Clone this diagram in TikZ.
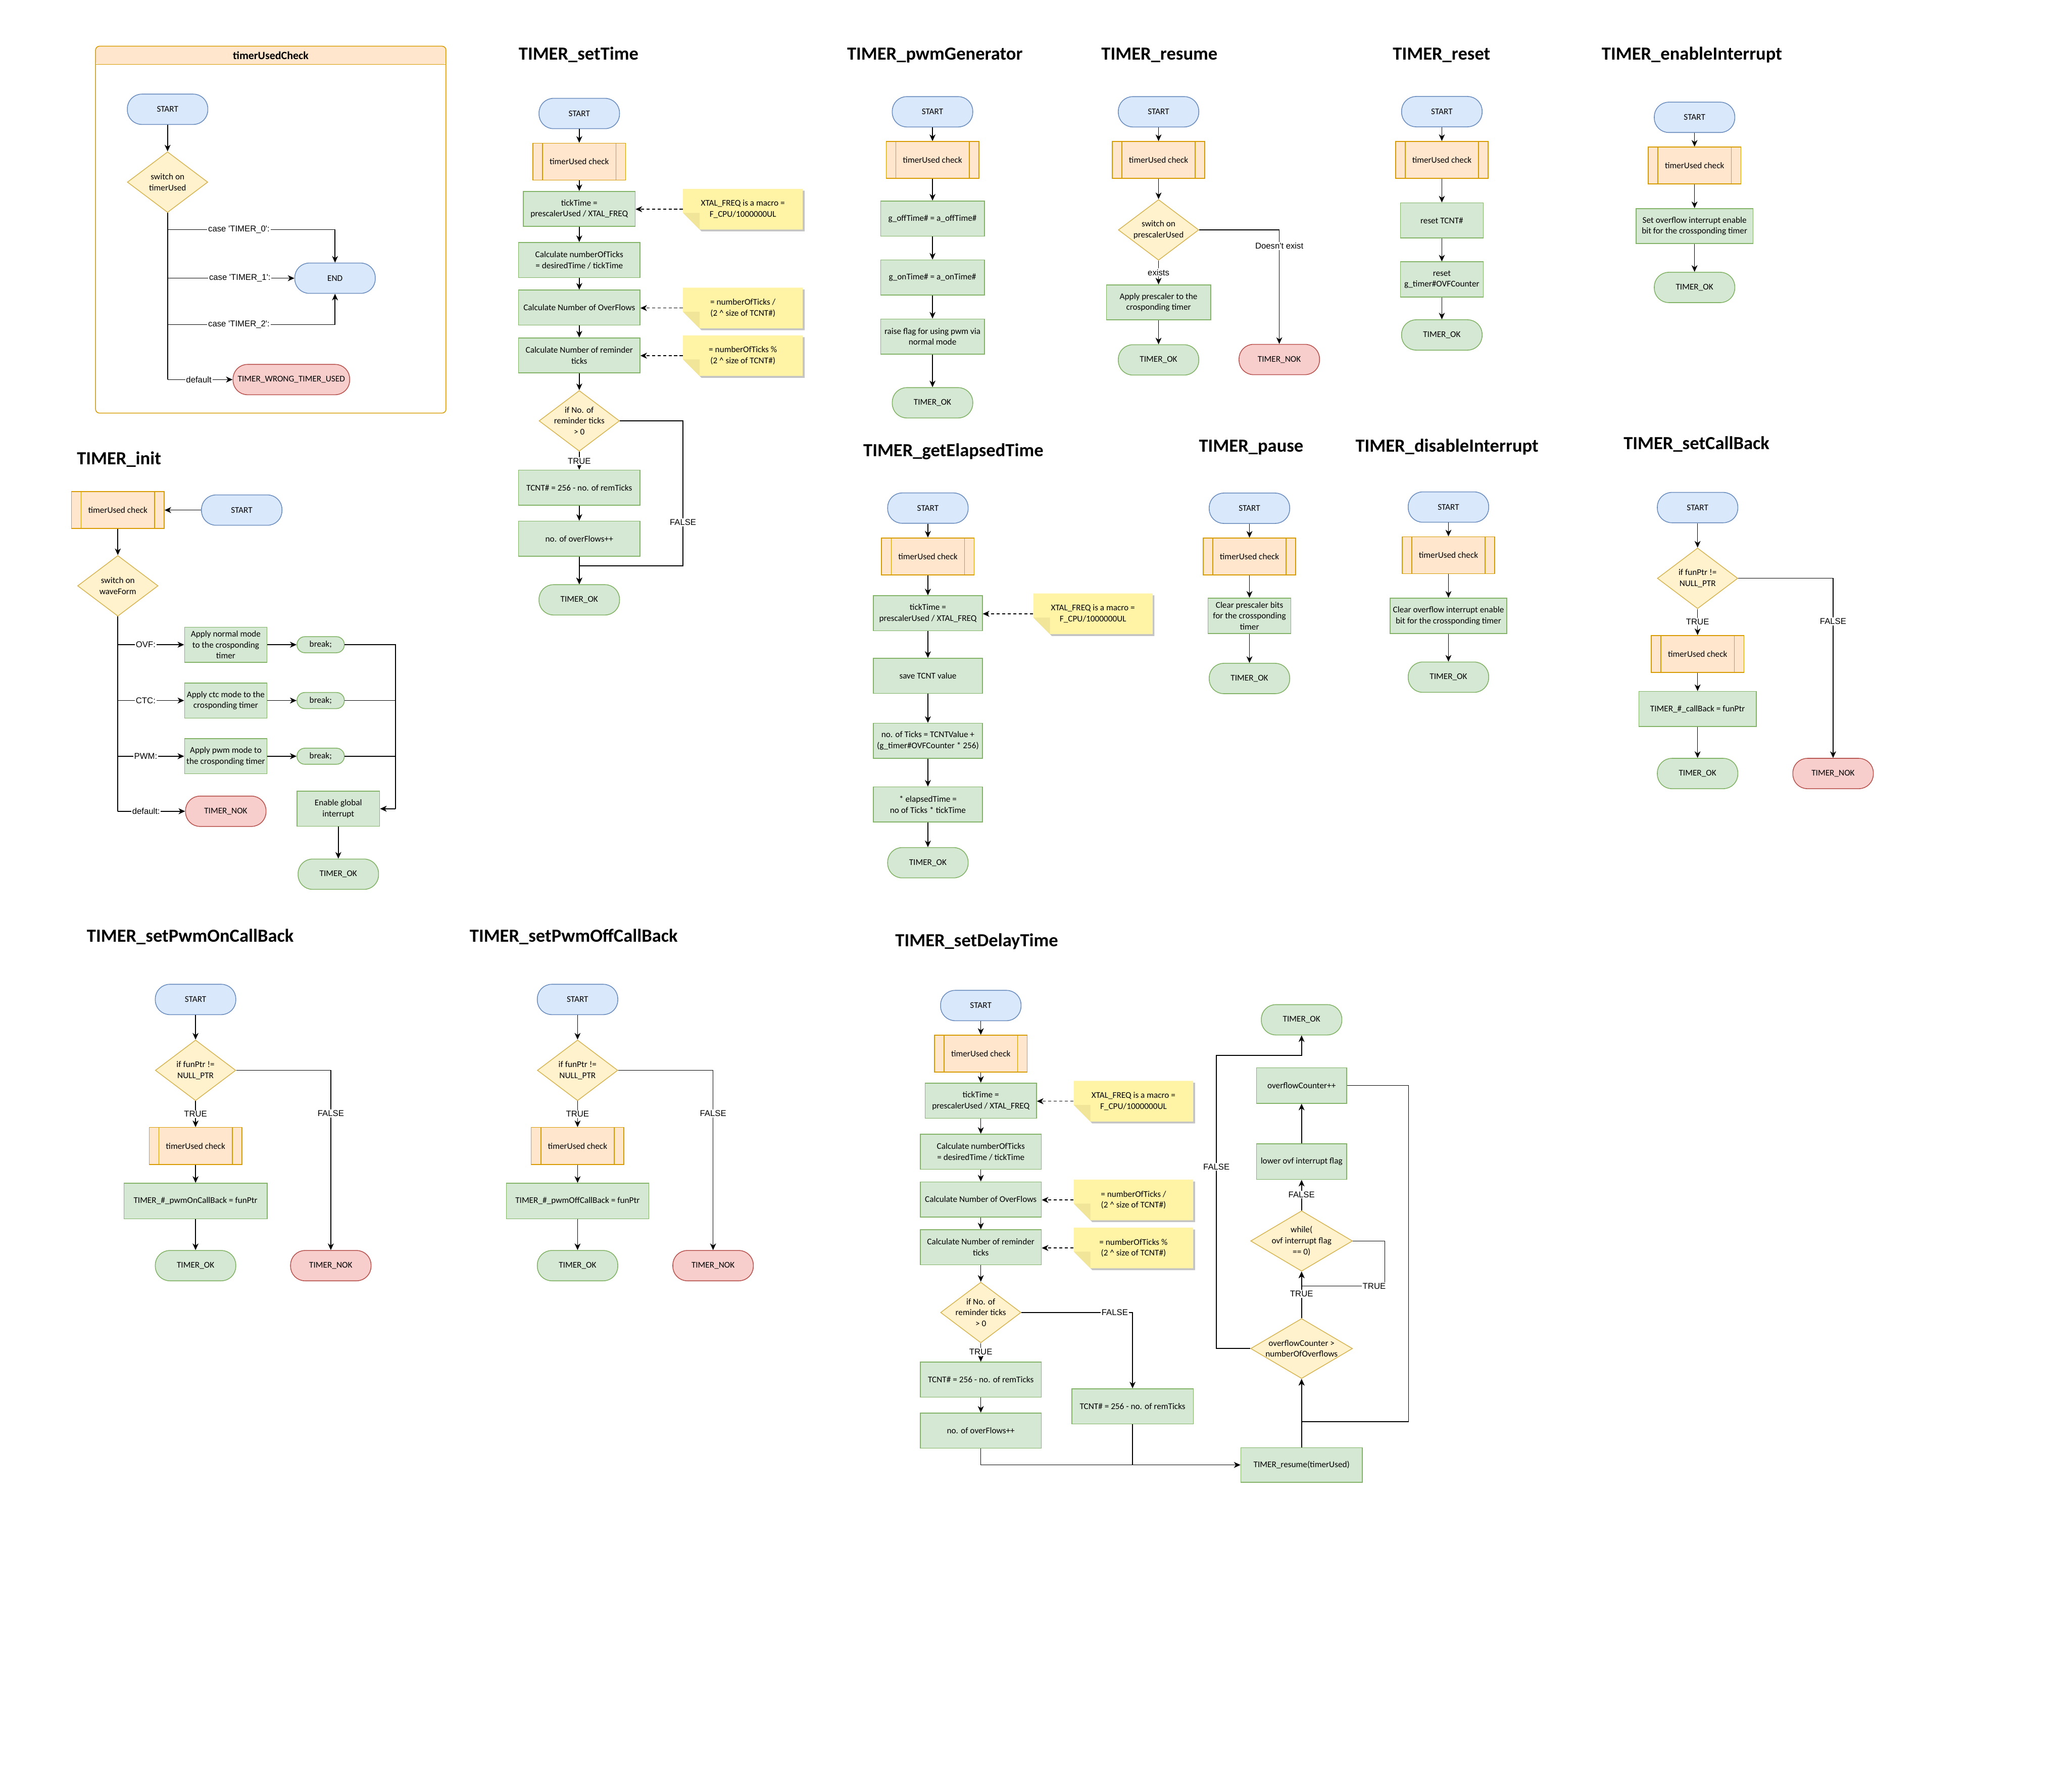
\documentclass[tikz,border=0pt]{standalone}
\usepackage{fontspec}
\setmainfont{Carlito}
\newfontfamily\lblfont{Liberation Sans}
\usetikzlibrary{arrows.meta,shapes.geometric}
\definecolor{bfill}{HTML}{DAE8FC}\definecolor{bdraw}{HTML}{6C8EBF}
\definecolor{gfill}{HTML}{D5E8D4}\definecolor{gdraw}{HTML}{82B366}
\definecolor{rfill}{HTML}{F8CECC}\definecolor{rdraw}{HTML}{B85450}
\definecolor{ofill}{HTML}{FFE6CC}\definecolor{odraw}{HTML}{D79B00}
\definecolor{yfill}{HTML}{FFF2CC}\definecolor{ydraw}{HTML}{D6B656}
\definecolor{nfill}{HTML}{FFF4A6}\definecolor{nflap}{HTML}{F1E59A}\definecolor{nshad}{HTML}{C4C4C4}
\newcommand\nfnt{\fontsize{6.6pt}{8.3pt}\selectfont}
\newcommand\lfnt{\lblfont\fontsize{6.4pt}{7.6pt}\selectfont}
\newcommand\tfnt{\bfseries\fontsize{14pt}{16pt}\selectfont}
\newcommand\hfnt{\bfseries\fontsize{8.4pt}{10pt}\selectfont}
\tikzset{
  lw/.style={line width=0.6pt},
  nbase/.style={draw, lw, align=center, inner sep=0pt, font=\nfnt, text=black},
  term/.style={nbase, rectangle, rounded corners=11pt, minimum width=61pt, minimum height=23pt},
  startnode/.style={term, fill=bfill, draw=bdraw},
  oknode/.style={term, fill=gfill, draw=gdraw},
  noknode/.style={term, fill=rfill, draw=rdraw},
  breaknode/.style={nbase, rectangle, rounded corners=6pt, minimum width=35.9pt, minimum height=12.2pt, fill=gfill, draw=gdraw},
  procbox/.style={nbase, rectangle, fill=gfill, draw=gdraw, minimum width=#1, minimum height=26.6pt},
  subbox/.style={nbase, rectangle, fill=ofill, draw=odraw, minimum width=70.2pt, minimum height=28pt,
     path picture={\draw[odraw,lw] ([xshift=7.3pt]path picture bounding box.north west) -- ([xshift=7.3pt]path picture bounding box.south west)
       ([xshift=-7.3pt]path picture bounding box.north east) -- ([xshift=-7.3pt]path picture bounding box.south east);}},
  decbox/.style={nbase, diamond, fill=yfill, draw=ydraw, minimum width=61pt, minimum height=46pt},
  dlab/.style={font=\nfnt, align=center, inner sep=0pt, text=black},
  arr/.style={draw, lw, -{Stealth[length=5pt,width=4.5pt,inset=1.5pt]}},
  darr/.style={arr, dash pattern=on 2.4pt off 1.8pt},
  lbl/.style={fill=white, inner sep=0.7pt, font=\lfnt, text=black},
  ttl/.style={font=\tfnt, anchor=base, inner sep=0pt},
  notetxt/.style={font=\nfnt, align=center, inner sep=0pt, text=black},
}
\newcommand\stickynote[5]{%
  \begin{scope}[shift={(#2,#3)}]
    \fill[nshad] (-#4/2+1.4,-15.4+1.4) -- (#4/2+1.4,-15.4+1.4) -- (#4/2+1.4,15.4+1.4) -- (-#4/2+12.6+1.4,15.4+1.4) -- (-#4/2+1.4,15.4-12.6+1.4) -- cycle;
    \fill[nfill] (-#4/2,-15.4) -- (#4/2,-15.4) -- (#4/2,15.4) -- (-#4/2+12.6,15.4) -- (-#4/2,15.4-12.6) -- cycle;
    \fill[nflap] (-#4/2,15.4-12.6) -- (-#4/2+12.6,15.4-12.6) -- (-#4/2+12.6,15.4) -- cycle;
  \end{scope}
  \node[notetxt, minimum width=#4pt, minimum height=30.8pt] (#1) at (#2,#3) {#5};
}
\begin{document}
\begin{tikzpicture}[x=1pt,y=-1pt]
\fill[white] (0,0) rectangle (1568,1357.7);
\useasboundingbox (0,0) rectangle (1568,1357.7);

% ================= timerUsedCheck
\node[draw=odraw, lw, rounded corners=3pt, minimum width=265.6pt, minimum height=278pt, inner sep=0pt,
  path picture={\fill[ofill] (path picture bounding box.north west) rectangle ([yshift=-13.8pt]path picture bounding box.north east);
    \draw[odraw,lw] ([yshift=-13.8pt]path picture bounding box.north west) -- ([yshift=-13.8pt]path picture bounding box.north east);}] (cont) at (205.2,174) {};
\node[font=\hfnt, inner sep=0pt] (contT) at (205.2,42.2) {timerUsedCheck};
\node[startnode] (uS) at (127,82.8) {START};
\node[decbox, label={[dlab]center:{switch on\\timerUsed}}] (uD) at (127,138) {};
\node[startnode] (uE) at (253.9,210.8) {END};
\node[noknode, minimum width=88.4pt] (uW) at (220.8,287.6) {TIMER\_WRONG\_TIMER\_USED};
\coordinate (uB0) at (127,174);
\coordinate (uB2) at (127,246);
\draw[arr] (uS) -- (uD);
\draw[lw] (uD.south) -- (uD.south |- uW.west);
\draw[arr] (uB0) -| node[lbl,pos=0.213]{case \textquotesingle TIMER\_0\textquotesingle:} (uE.north);
\draw[arr] (uE.west -| uD.south) -- node[lbl,pos=0.57]{case \textquotesingle TIMER\_1\textquotesingle:} (uE.west);
\draw[arr] (uB2) -| node[lbl,pos=0.213]{case \textquotesingle TIMER\_2\textquotesingle:} (uE.south);
\draw[arr] (uD.south |- uW.west) -- node[lbl,pos=0.48]{default} (uW.west);

% ================= TIMER_setTime
\node[ttl] (sT) at (438.5,45.5) {TIMER\_setTime};
\node[startnode] (sS) at (439,86) {START};
\node[subbox] (sU) at (439,122.5) {timerUsed check};
\node[procbox=84.7pt] (sA) at (439,158.3) {tickTime =\\prescalerUsed / XTAL\_FREQ};
\node[procbox=92pt] (sB) at (439,197) {Calculate numberOfTicks\\= desiredTime / tickTime};
\node[procbox=92pt] (sC) at (439,233.1) {Calculate Number of OverFlows};
\node[procbox=92pt] (sD) at (439,269.3) {Calculate Number of reminder\\ticks};
\node[decbox, label={[dlab]center:{if No. of\\reminder ticks\\> 0}}] (sX) at (439,318.9) {};
\node[procbox=92pt] (sE) at (439,369.5) {TCNT\# = 256 - no. of remTicks};
\node[procbox=92pt] (sF) at (439,408.2) {no. of overFlows++};
\node[oknode] (sO) at (439,454.5) {TIMER\_OK};
\stickynote{sN1}{563}{158.5}{90.7}{XTAL\_FREQ is a macro =\\F\_CPU/1000000UL}
\stickynote{sN2}{563}{233.4}{90.7}{= numberOfTicks /\\(2 \textasciicircum\ size of TCNT\#)}
\stickynote{sN3}{563}{269.5}{90.7}{= numberOfTicks \%\\(2 \textasciicircum\ size of TCNT\#)}
\coordinate (sFa) at (517.6,428.7);
\draw[arr] (sS) -- (sU);
\draw[arr] (sU) -- (sA);
\draw[arr] (sA) -- (sB);
\draw[arr] (sB) -- (sC);
\draw[arr] (sC) -- (sD);
\draw[arr] (sD) -- (sX);
\draw[arr] (sX) -- node[lbl,pos=0.53]{TRUE} (sE);
\draw[arr] (sE) -- (sF);
\draw[arr] (sF) -- (sO);
\draw[arr] (sX.east) -| node[lbl,pos=0.85]{FALSE} (sFa) -| (sO.north);
\draw[darr] (sN1.west) -- (sA.east |- sN1.west);
\draw[darr] (sN2.west) -- (sC.east |- sN2.west);
\draw[darr] (sN3.west) -- (sD.east |- sN3.west);

% ================= TIMER_pwmGenerator
\node[ttl] (gT) at (708.5,45.5) {TIMER\_pwmGenerator};
\node[startnode] (gS) at (706.7,84.7) {START};
\node[subbox] (gU) at (706.7,121.2) {timerUsed check};
\node[procbox=78.7pt] (gA) at (706.7,165.6) {g\_offTime\# = a\_offTime\#};
\node[procbox=78.7pt] (gB) at (706.7,210.3) {g\_onTime\# = a\_onTime\#};
\node[procbox=78.7pt] (gC) at (706.7,255) {raise flag for using pwm via\\normal mode};
\node[oknode] (gO) at (706.7,305.2) {TIMER\_OK};
\draw[arr] (gS) -- (gU);
\draw[arr] (gU) -- (gA);
\draw[arr] (gA) -- (gB);
\draw[arr] (gB) -- (gC);
\draw[arr] (gC) -- (gO);

% ================= TIMER_resume
\node[ttl] (rT) at (878.7,45.5) {TIMER\_resume};
\node[startnode] (rS) at (878,84.7) {START};
\node[subbox] (rU) at (878,121.2) {timerUsed check};
\node[decbox, label={[dlab]center:{switch on\\prescalerUsed}}] (rX) at (878,174.2) {};
\node[procbox=79pt] (rA) at (878,229.1) {Apply prescaler to the\\crosponding timer};
\node[oknode] (rO) at (878,272.7) {TIMER\_OK};
\node[noknode] (rN) at (969.5,272.4) {TIMER\_NOK};
\draw[arr] (rS) -- (rU);
\draw[arr] (rU) -- (rX);
\draw[arr] (rX) -- node[lbl,pos=0.5]{exists} (rA);
\draw[arr] (rA) -- (rO);
\draw[arr] (rX.east) -| node[lbl,pos=0.57]{Doesn\textquotesingle t exist} (rN.north);

% ================= TIMER_reset
\node[ttl] (eT) at (1092.5,45.5) {TIMER\_reset};
\node[startnode] (eS) at (1092.7,84.6) {START};
\node[subbox] (eU) at (1092.7,121.1) {timerUsed check};
\node[procbox=62.7pt] (eA) at (1092.7,167) {reset TCNT\#};
\node[procbox=62.7pt] (eB) at (1092.7,211.7) {reset\\g\_timer\#OVFCounter};
\node[oknode] (eO) at (1092.7,253.8) {TIMER\_OK};
\draw[arr] (eS) -- (eU);
\draw[arr] (eU) -- (eA);
\draw[arr] (eA) -- (eB);
\draw[arr] (eB) -- (eO);

% ================= TIMER_enableInterrupt
\node[ttl] (nT) at (1282.2,45.5) {TIMER\_enableInterrupt};
\node[startnode] (nS) at (1284.2,88.9) {START};
\node[subbox] (nU) at (1284.2,125.4) {timerUsed check};
\node[procbox=88.7pt] (nA) at (1284.2,171.3) {Set overflow interrupt enable\\bit for the crossponding timer};
\node[oknode] (nO) at (1284.2,217.8) {TIMER\_OK};
\draw[arr] (nS) -- (nU);
\draw[arr] (nU) -- (nA);
\draw[arr] (nA) -- (nO);

% ================= TIMER_init
\node[ttl] (iT) at (90.2,352) {TIMER\_init};
\node[subbox] (iU) at (89.3,386.5) {timerUsed check};
\node[startnode] (iS) at (183.2,386.5) {START};
\node[decbox, label={[dlab]center:{switch on\\waveForm}}] (iX) at (89.3,443.9) {};
\node[procbox=62.5pt] (iA) at (171.1,488.5) {Apply normal mode\\to the crosponding\\timer};
\node[procbox=62.5pt] (iB) at (171.1,530.8) {Apply ctc mode to the\\crosponding timer};
\node[procbox=62.5pt] (iC) at (171.1,573) {Apply pwm mode to\\the crosponding timer};
\node[noknode] (iN) at (171.1,614.7) {TIMER\_NOK};
\node[breaknode] (ib1) at (243,488.5) {break;};
\node[breaknode] (ib2) at (243,530.8) {break;};
\node[breaknode] (ib3) at (243,573) {break;};
\node[procbox=62.7pt] (iE) at (256.4,612.8) {Enable global\\interrupt};
\node[oknode] (iO) at (256.4,662.4) {TIMER\_OK};
\coordinate (iR) at (299.8,612.8);
\draw[arr] (iS) -- (iU);
\draw[arr] (iU) -- (iX);
\draw[lw] (iX.south) -- (iX.south |- iN.west);
\draw[arr] (iX.south |- iA.west) -- node[lbl,pos=0.42]{OVF:} (iA.west);
\draw[arr] (iX.south |- iB.west) -- node[lbl,pos=0.42]{CTC:} (iB.west);
\draw[arr] (iX.south |- iC.west) -- node[lbl,pos=0.42]{PWM:} (iC.west);
\draw[arr] (iX.south |- iN.west) -- node[lbl,pos=0.42]{default:} (iN.west);
\draw[arr] (iA) -- (ib1);
\draw[arr] (iB) -- (ib2);
\draw[arr] (iC) -- (ib3);
\draw[lw] (ib1.east) -| (iR);
\draw[lw] (ib2.east) -- (ib2.east -| iR);
\draw[lw] (ib3.east) -- (ib3.east -| iR);
\draw[arr] (iR) -- (iE.east);
\draw[arr] (iE) -- (iO);

% ================= TIMER_getElapsedTime
\node[ttl] (tT) at (722.5,346) {TIMER\_getElapsedTime};
\node[startnode] (tS) at (703.2,385) {START};
\node[subbox] (tU) at (703.2,421.6) {timerUsed check};
\node[procbox=82.6pt] (tA) at (703.2,464.7) {tickTime =\\prescalerUsed / XTAL\_FREQ};
\node[procbox=82.6pt] (tB) at (703.2,512.1) {save TCNT value};
\node[procbox=82.6pt] (tC) at (703.2,561.3) {no. of Ticks = TCNTValue +\\(g\_timer\#OVFCounter * 256)};
\node[procbox=82.6pt] (tD) at (703.2,609.6) {* elapsedTime =\\no of Ticks * tickTime};
\node[oknode] (tO) at (703.2,653.7) {TIMER\_OK};
\stickynote{tN}{828.3}{465.1}{90.4}{XTAL\_FREQ is a macro =\\F\_CPU/1000000UL}
\draw[arr] (tS) -- (tU);
\draw[arr] (tU) -- (tA);
\draw[arr] (tA) -- (tB);
\draw[arr] (tB) -- (tC);
\draw[arr] (tC) -- (tD);
\draw[arr] (tD) -- (tO);
\draw[darr] (tN.west) -- (tA.east |- tN.west);

% ================= TIMER_pause
\node[ttl] (pT) at (948.2,342.6) {TIMER\_pause};
\node[startnode] (pS) at (946.9,385.1) {START};
\node[subbox] (pU) at (946.9,421.7) {timerUsed check};
\node[procbox=62.7pt, minimum height=26.8pt] (pA) at (946.9,466.6) {Clear prescaler bits\\for the crossponding\\timer};
\node[oknode] (pO) at (946.9,514.1) {TIMER\_OK};
\draw[arr] (pS) -- (pU);
\draw[arr] (pU) -- (pA);
\draw[arr] (pA) -- (pO);

% ================= TIMER_disableInterrupt
\node[ttl] (qT) at (1096.6,342.6) {TIMER\_disableInterrupt};
\node[startnode] (qS) at (1097.7,384.2) {START};
\node[subbox] (qU) at (1097.7,420.7) {timerUsed check};
\node[procbox=88.6pt, minimum height=26.8pt] (qA) at (1097.7,466.6) {Clear overflow interrupt enable\\bit for the crossponding timer};
\node[oknode] (qO) at (1097.7,513.1) {TIMER\_OK};
\draw[arr] (qS) -- (qU);
\draw[arr] (qU) -- (qA);
\draw[arr] (qA) -- (qO);

% ================= TIMER_setCallBack
\node[ttl] (cT) at (1285.7,340.5) {TIMER\_setCallBack};
\node[startnode] (cS) at (1286.5,384.6) {START};
\node[decbox, label={[dlab]center:{if funPtr !=\\NULL\_PTR}}] (cX) at (1286.5,438.2) {};
\node[subbox] (cU) at (1286.5,495.5) {timerUsed check};
\node[procbox=89pt] (cA) at (1286.5,537.2) {TIMER\_\#\_callBack = funPtr};
\node[oknode] (cO) at (1286.5,586.1) {TIMER\_OK};
\node[noknode] (cN) at (1389.2,586.1) {TIMER\_NOK};
\draw[arr] (cS) -- (cX);
\draw[arr] (cX) -- node[lbl,pos=0.49]{TRUE} (cU);
\draw[arr] (cU) -- (cA);
\draw[arr] (cA) -- (cO);
\draw[arr] (cX.east) -| node[lbl,pos=0.62]{FALSE} (cN.north);

% ================= TIMER_setPwmOnCallBack
\node[ttl] (aT) at (144.2,713.7) {TIMER\_setPwmOnCallBack};
\node[startnode] (aS) at (148.2,757.3) {START};
\node[decbox, label={[dlab]center:{if funPtr !=\\NULL\_PTR}}] (aX) at (148.2,811) {};
\node[subbox] (aU) at (148.2,868.3) {timerUsed check};
\node[procbox=108.4pt, minimum height=26.9pt] (aA) at (148.2,910) {TIMER\_\#\_pwmOnCallBack = funPtr};
\node[oknode] (aO) at (148.2,959) {TIMER\_OK};
\node[noknode] (aN) at (250.7,959) {TIMER\_NOK};
\draw[arr] (aS) -- (aX);
\draw[arr] (aX) -- node[lbl,pos=0.5]{TRUE} (aU);
\draw[arr] (aU) -- (aA);
\draw[arr] (aA) -- (aO);
\draw[arr] (aX.east) -| node[lbl,pos=0.62]{FALSE} (aN.north);

% ================= TIMER_setPwmOffCallBack
\node[ttl] (bT) at (434.8,713.7) {TIMER\_setPwmOffCallBack};
\node[startnode] (bS) at (437.7,757.3) {START};
\node[decbox, label={[dlab]center:{if funPtr !=\\NULL\_PTR}}] (bX) at (437.7,811) {};
\node[subbox] (bU) at (437.7,868.3) {timerUsed check};
\node[procbox=108pt, minimum height=26.9pt] (bA) at (437.7,910) {TIMER\_\#\_pwmOffCallBack = funPtr};
\node[oknode] (bO) at (437.7,959) {TIMER\_OK};
\node[noknode] (bN) at (540.4,959) {TIMER\_NOK};
\draw[arr] (bS) -- (bX);
\draw[arr] (bX) -- node[lbl,pos=0.5]{TRUE} (bU);
\draw[arr] (bU) -- (bA);
\draw[arr] (bA) -- (bO);
\draw[arr] (bX.east) -| node[lbl,pos=0.62]{FALSE} (bN.north);

% ================= TIMER_setDelayTime
\node[ttl] (dT) at (740.2,717.2) {TIMER\_setDelayTime};
\node[startnode] (dS) at (743.3,761.9) {START};
\node[subbox] (dU) at (743.3,798.4) {timerUsed check};
\node[procbox=84.4pt] (dA) at (743.3,834) {tickTime =\\prescalerUsed / XTAL\_FREQ};
\node[procbox=91.8pt] (dB) at (743.3,872.7) {Calculate numberOfTicks\\= desiredTime / tickTime};
\node[procbox=91.8pt] (dC) at (743.3,908.8) {Calculate Number of OverFlows};
\node[procbox=91.8pt] (dD) at (743.3,945.1) {Calculate Number of reminder\\ticks};
\node[decbox, label={[dlab]center:{if No. of\\reminder ticks\\> 0}}] (dX) at (743.3,994.5) {};
\node[procbox=91.8pt] (dE) at (743.3,1045.4) {TCNT\# = 256 - no. of remTicks};
\node[procbox=91.8pt] (dF) at (743.3,1084) {no. of overFlows++};
\node[procbox=92pt] (dG) at (858.3,1065.6) {TCNT\# = 256 - no. of remTicks};
\stickynote{dN1}{859}{834.4}{90.5}{XTAL\_FREQ is a macro =\\F\_CPU/1000000UL}
\stickynote{dN2}{859}{909.2}{90.5}{= numberOfTicks /\\(2 \textasciicircum\ size of TCNT\#)}
\stickynote{dN3}{859}{945.6}{90.5}{= numberOfTicks \%\\(2 \textasciicircum\ size of TCNT\#)}
\node[procbox=92pt, minimum height=26.3pt] (dR) at (986.4,1110) {TIMER\_resume(timerUsed)};
\node[decbox, minimum width=77.2pt, minimum height=45.5pt, label={[dlab]center:{overflowCounter >\\numberOfOverflows}}] (dY) at (986.4,1021.8) {};
\node[decbox, minimum width=77.2pt, minimum height=45.8pt, label={[dlab]center:{while(\\ovf interrupt flag\\== 0)}}] (dW) at (986.4,940.3) {};
\node[procbox=68.2pt, minimum height=27pt] (dL) at (986.4,880.2) {lower ovf interrupt flag};
\node[procbox=68.2pt, minimum height=27pt] (dK) at (986.4,822.5) {overflowCounter++};
\node[oknode] (dO) at (986.4,772.7) {TIMER\_OK};
\coordinate (dWt) at (1049.5,974.4);
\coordinate (dKc) at (1067.5,1077.2);
\coordinate (dYf) at (921.9,799.7);
\draw[arr] (dS) -- (dU);
\draw[arr] (dU) -- (dA);
\draw[arr] (dA) -- (dB);
\draw[arr] (dB) -- (dC);
\draw[arr] (dC) -- (dD);
\draw[arr] (dD) -- (dX);
\draw[arr] (dX) -- node[lbl,pos=0.47]{TRUE} (dE);
\draw[arr] (dE) -- (dF);
\draw[arr] (dX.east) -| node[lbl,pos=0.42]{FALSE} (dG.north);
\draw[lw] (dG.south) -- (dG.south |- dR.west);
\draw[arr] (dF.south) |- (dR.west);
\draw[darr] (dN1.west) -- (dA.east |- dN1.west);
\draw[darr] (dN2.west) -- (dC.east |- dN2.west);
\draw[darr] (dN3.west) -- (dD.east |- dN3.west);
\draw[arr] (dR) -- (dY);
\draw[arr] (dY) -- node[lbl,pos=0.52]{TRUE} (dW);
\draw[arr] (dW.east) -| (dWt) -| node[lbl,pos=0.064]{TRUE} (dW.south);
\draw[arr] (dW) -- node[lbl,pos=0.52]{FALSE} (dL);
\draw[arr] (dL) -- (dK);
\draw[arr] (dK.east) -| (dKc) -| (dY.south);
\draw[arr] (dY.west) -| node[lbl,pos=0.81]{FALSE} (dYf) -| (dO.south);
\end{tikzpicture}
\end{document}
